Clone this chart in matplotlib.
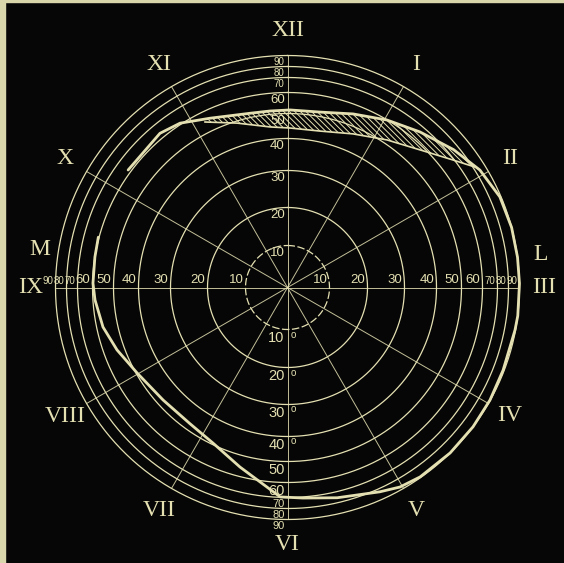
import numpy as np
import matplotlib
matplotlib.use("Agg")
import matplotlib.pyplot as plt
from matplotlib.patches import Rectangle

# Couleurs de la planche (craie sur fond noir)
INK = "#e4e0b2"
BG = "#060606"

# Echelle radiale du périmètre : excentricité (degrés) -> rayon (unités de dessin)
scale_deg = [0, 10, 20, 30, 40, 50, 60, 70, 80, 90]
scale_rad = [0, 42, 80, 117, 149, 174, 195, 210, 221, 232]

ring_values = [10, 20, 30, 40, 50, 60, 70, 80, 90]
hour_labels = ["XII", "I", "II", "III", "IV", "V", "VI", "VII", "VIII", "IX", "X", "XI"]

# Limite du champ visuel : angle (degrés depuis XII, sens horaire), excentricité (degrés)
field_theta = [-53.6, -39.6, -33.2, -24.6, -12.1, -5.7, 0.8, 10.5, 20.7, 30.7, 40.4,
               50.3, 58.6, 66.9, 75.0, 82.5, 89.0, 97.0, 100.6, 111.0, 119.1, 126.9,
               135.5, 145.0, 150.6, 155.7, 166.7, 175.8, 182.0, 185.9, 194.8, 205.6,
               215.7, 227.9, 240.4, 249.9, 257.9, 266.3, 271.3, 279.0, 284.9]
field_ecc = [62.0, 63.4, 60.9, 55.8, 52.0, 51.6, 51.7, 52.1, 55.5, 59.9, 66.2,
             75.3, 84.0, 89.0, 90.0, 90.0, 90.0, 90.0, 89.5, 89.0, 89.7, 90.0,
             90.0, 89.3, 87.3, 82.9, 75.5, 71.0, 69.7, 63.7, 55.6, 49.4,
             47.4, 47.5, 49.6, 53.6, 57.0, 59.0, 59.8, 60.0, 60.5]

# Bord inférieur de la zone hachurée (scotome)
inner_theta = [-26.5, -17.1, -6.2, 0.9, 11.7, 23.1, 34.0, 43.9, 52.4, 57.3]
inner_ecc = [55.2, 49.2, 45.0, 44.2, 44.3, 47.2, 51.9, 58.1, 69.3, 81.7]


def fwd(r):
    r = np.asarray(r, dtype=float)
    return np.interp(r, scale_deg, scale_rad) + np.clip(r - 90, 0, None) * 1.1


def inv(p):
    p = np.asarray(p, dtype=float)
    return np.interp(p, scale_rad, scale_deg) + np.clip(p - 232, 0, None) / 1.1


plt.rcParams["hatch.color"] = INK
plt.rcParams["hatch.linewidth"] = 0.7

W, H = 564, 563
cx, cy = 287.5, 287.5
R = 232.0
fig = plt.figure(figsize=(W / 100, H / 100), dpi=100, facecolor=BG)
ax = fig.add_axes([(cx - R) / W, (H - cy - R) / H, 2 * R / W, 2 * R / H], projection="polar")
ax.set_theta_zero_location("N")
ax.set_theta_direction(-1)
ax.set_rscale("function", functions=(fwd, inv))
ax.set_rlim(0, 90)
ax.set_facecolor(BG)
ax.grid(False)
ax.set_xticks([])
ax.set_yticks([])
ax.spines["polar"].set_visible(False)

# Cercles d'excentricité
tt = np.linspace(0, 2 * np.pi, 721)
for d in ring_values:
    ax.plot(tt, np.full_like(tt, d), color=INK, lw=0.9, clip_on=False,
            ls=(0, (6, 2)) if d == 10 else "-")

# Méridiens (toutes les heures)
for k in range(12):
    th = np.deg2rad(30 * k)
    ax.plot([th, th], [0, 90], color=INK, lw=0.7, alpha=0.85)

# Graduations sur les axes
lab_font = dict(family="Liberation Sans", color=INK)
for d in ring_values:
    fs = 9.5 if d <= 60 else 7
    ax.annotate(str(d), xy=(np.pi / 2, d), xytext=(-1.5, 1), textcoords="offset points",
                ha="right", va="bottom", fontsize=fs, **lab_font)
    ax.annotate(str(d), xy=(3 * np.pi / 2, d), xytext=(-1.5, 1), textcoords="offset points",
                ha="right", va="bottom", fontsize=fs, **lab_font)
    ax.annotate(str(d), xy=(0, d), xytext=(-2, -1), textcoords="offset points",
                ha="right", va="top", fontsize=fs, **lab_font)
    ax.annotate(str(d), xy=(np.pi, d), xytext=(-2, -1), textcoords="offset points",
                ha="right", va="top", fontsize=fs + 1, **lab_font)
    if d <= 40:
        ax.annotate("o", xy=(np.pi, d), xytext=(2.5, 0), textcoords="offset points",
                    ha="left", va="top", fontsize=7, **lab_font)

# Chiffres romains autour du cadran
rr = 257 / R
for k, lab in enumerate(hour_labels):
    a = np.deg2rad(30 * k)
    ax.text(0.5 + 0.5 * rr * np.sin(a), 0.5 + 0.5 * rr * np.cos(a), lab,
            transform=ax.transAxes, ha="center", va="center", fontsize=17,
            family="Liberation Serif", color=INK)
ax.text(-0.034, 0.581, "M", transform=ax.transAxes, ha="center", va="center",
        fontsize=17, family="Liberation Serif", color=INK)
ax.text(1.046, 0.572, "L", transform=ax.transAxes, ha="center", va="center",
        fontsize=17, family="Liberation Serif", color=INK)

# Zone hachurée entre la limite et le bord interne
ft = np.array(field_theta)
fe = np.array(field_ecc)
mask = (ft > inner_theta[0]) & (ft < inner_theta[-1])
poly_t = np.r_[inner_theta[0], ft[mask], inner_theta[-1], inner_theta[::-1]]
poly_e = np.r_[inner_ecc[0], fe[mask], inner_ecc[-1], inner_ecc[::-1]]
ax.fill(np.deg2rad(poly_t), poly_e, facecolor="none", edgecolor=INK,
        hatch="\\\\\\\\\\\\", linewidth=0)
ax.plot(np.deg2rad(inner_theta), inner_ecc, color=INK, lw=1.2, clip_on=False)

# Limite du champ visuel
ax.plot(np.deg2rad(field_theta), field_ecc, color=INK, lw=2.0, clip_on=False,
        solid_capstyle="round")

# Bords du papier (scan)
fig.patches.append(Rectangle((0, 0), 5 / W, 1, transform=fig.transFigure,
                             color="#d8d6aa", zorder=10))
fig.patches.append(Rectangle((0, 1 - 2 / H), 1, 2 / H, transform=fig.transFigure,
                             color="#d8d6aa", zorder=10))

fig.savefig("out.png", dpi=100, facecolor=BG)
